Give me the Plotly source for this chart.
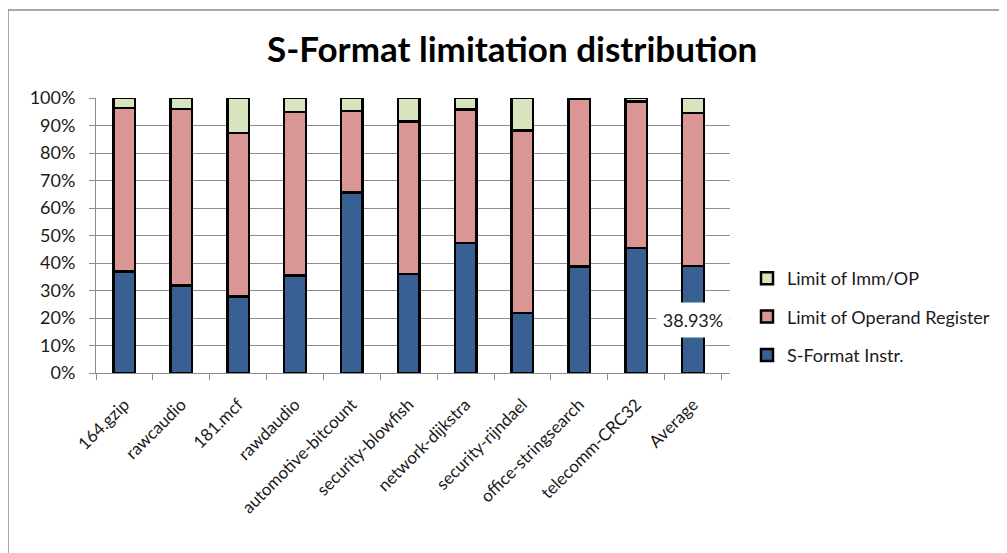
import plotly.graph_objects as go

categories = ["164.gzip", "rawcaudio", "181.mcf", "rawdaudio", "automotive-bitcount",
              "security-blowfish", "network-dijkstra", "security-rijndael",
              "office-stringsearch", "telecomm-CRC32", "Average"]
s_format = [37.0, 31.9, 27.9, 35.4, 65.7, 36.0, 47.3, 21.8, 38.8, 45.5, 38.93]
operand_reg = [59.4, 64.1, 59.4, 59.6, 29.5, 55.5, 48.5, 66.4, 60.8, 53.3, 55.57]
imm_op = [3.6, 4.0, 12.7, 5.0, 4.8, 8.5, 4.2, 11.8, 0.4, 1.2, 5.5]

FONT = "Lato"
TXT = "#1a1a1a"
W, H = 999, 545
L, T, PW, PH = 88, 90, 634, 275

fig = go.Figure()
series = [
    ("S-Format Instr.", s_format, "#386092", 3),
    ("Limit of Operand Register", operand_reg, "#D99694", 2),
    ("Limit of Imm/OP", imm_op, "#D7E4BD", 1),
]
for name, vals, col, rank in series:
    fig.add_trace(go.Bar(
        x=categories, y=vals, name=name, width=0.38, legendgroup=name, legendrank=rank,
        marker=dict(color=col, line=dict(color="black", width=2.5)),
        hoverinfo="skip",
    ))

fig.add_annotation(
    x=categories[-1], y=19.3, text=f"{s_format[-1]:.2f}%", showarrow=False,
    bgcolor="white", font=dict(family=FONT, size=18, color=TXT),
    width=70, height=32, borderpad=1,
)

fig.update_layout(
    barmode="stack",
    width=W, height=H,
    paper_bgcolor="white", plot_bgcolor="white",
    margin=dict(l=L, r=W - L - PW, t=T, b=H - T - PH),
    title=dict(text="<b>S-Format limitation distribution</b>", xref="container",
               x=259 / W, xanchor="left", y=1 - 42 / H, yanchor="middle",
               font=dict(family=FONT, size=35, color="black")),
    font=dict(family=FONT, size=18, color=TXT),
    legend=dict(x=17 / PW + 1, xanchor="left", y=(365 - 309) / PH, yanchor="middle",
                traceorder="grouped", font=dict(family=FONT, size=18, color=TXT),
                itemwidth=30, tracegroupgap=12),
    shapes=[dict(type="rect", xref="paper", yref="paper",
                 x0=-L / PW, x1=1.6, y0=-0.8, y1=1 + (T - 2) / PH,
                 line=dict(color="#8c8c8c", width=1.5), fillcolor="rgba(0,0,0,0)", layer="below")],
)
fig.update_yaxes(range=[0, 100], dtick=10, ticksuffix="%", showgrid=True,
                 gridcolor="#8c8c8c", gridwidth=1, showline=True, linecolor="#8c8c8c",
                 ticks="outside", ticklen=6, tickcolor="#8c8c8c", ticklabelstandoff=10,
                 tickfont=dict(family=FONT, size=18, color=TXT), fixedrange=True)
fig.update_xaxes(tickangle=-45, showline=True, linecolor="#8c8c8c", linewidth=1,
                 ticks="outside", tickson="boundaries", ticklen=6, tickcolor="#8c8c8c",
                 ticklabelstandoff=14,
                 tickfont=dict(family=FONT, size=17, color=TXT), fixedrange=True)

fig.write_html("out.html")
